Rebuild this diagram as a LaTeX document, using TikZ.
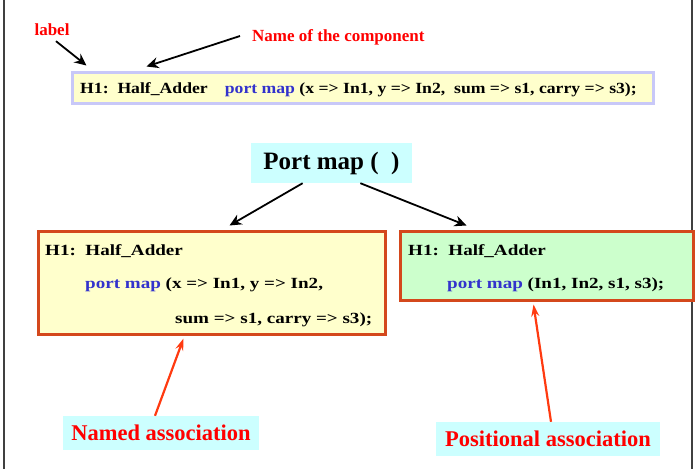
\documentclass[tikz,border=0pt]{standalone}
\usepackage{fontspec}
\setmainfont{Liberation Serif}
\newfontfamily\codefont{Liberation Serif}[FakeStretch=1.23]
\newfontfamily\topfont{Liberation Serif}[FakeStretch=1.14]
\usepackage{tikz}
\usetikzlibrary{arrows.meta,calc}

\definecolor{paleyellow}{HTML}{FFFFCC}
\definecolor{palegreen}{HTML}{CCFFCC}
\definecolor{palecyan}{HTML}{CCFFFF}
\definecolor{lavender}{HTML}{C8C8F8}
\definecolor{rust}{HTML}{D4481C}
\definecolor{notered}{HTML}{FF0000}
\definecolor{arrowred}{HTML}{FF3A10}
\definecolor{kwblue}{HTML}{3333CC}

\newcommand{\kw}[1]{\textcolor{kwblue}{#1}}

\begin{document}
\begin{tikzpicture}[x=1pt,y=-1pt,
    code/.style={anchor=base west,inner sep=0pt,font=\codefont\bfseries\fontsize{15.5}{18}\selectfont},
    note/.style={text=notered,inner sep=0pt,font=\bfseries\fontsize{17}{20}\selectfont},
    tag/.style={fill=palecyan,text=notered,inner sep=0pt,font=\bfseries\fontsize{22.5}{26}\selectfont},
    blk/.style={color=black,line width=1.8pt,-{Stealth[length=12pt,width=11pt]}},
    redarr/.style={color=arrowred,line width=2.2pt,-{Stealth[length=12pt,width=8pt,inset=4pt]}}]
    \useasboundingbox (0,0) rectangle (696,469);
    % frame
    \draw[black!75,line width=1.6pt] (4,0) -- (4,469);
    \draw[black!75,line width=1.6pt] (692,0) -- (692,469);

    % top line
    \node (lbl)  [note] at (52,30) {label};
    \node (name) [note,anchor=west] at (252,37) {Name of the component};
    \node (top) [fill=paleyellow,draw=lavender,line width=3pt,minimum width=581pt,minimum height=31pt,inner sep=0pt] at (362.5,87.5) {};
    \node (topt) [code,font=\topfont\bfseries\fontsize{15.5}{18}\selectfont] at (80,93) {H1:\ \ Half\_Adder\hspace{1.1em}\kw{port map} (x => In1, y => In2,\ \ sum => s1, carry => s3);};
    \path[blk]
     ($(lbl.south)+(4,5)$) edge ($(top.north west)+(16,-5)$)
     ($(name.west)+(-12,-1)$) edge ($(top.north west)+(76,-4)$);

    % port map
    \node (port) [fill=palecyan,minimum width=161pt,minimum height=40pt,inner sep=0pt,font=\bfseries\fontsize{25}{30}\selectfont] at (331.5,163) {Port map (\ \ )};

    \node (left) [fill=paleyellow,draw=rust,line width=3pt,minimum width=347pt,minimum height=103pt,inner sep=0pt] at (211.5,282.5) {};
    \node (l1) [code] at (45,255) {H1:\ \ Half\_Adder};
    \node (l2) [code] at (85,288) {\kw{port map} (x => In1, y => In2,};
    \node (l3) [code] at (175,323) {sum => s1, carry => s3);};

    \node (right) [fill=palegreen,draw=rust,line width=3pt,minimum width=293pt,minimum height=69pt,inner sep=0pt] at (546.5,265.5) {};
    \node (r1) [code] at (408,255) {H1:\ \ Half\_Adder};
    \node (r2) [code] at (447,288) {\kw{port map} (In1, In2, s1, s3);};

    \path[blk]
     (port.215) edge ($(left.north)+(18,-4)$)
     (port.325) edge ($(right.north west)+(68,-4)$);

    % kinds of association
    \node (named) [tag,minimum width=196pt,minimum height=34pt] at (161,433) {Named association};
    \node (posit) [tag,minimum width=224pt,minimum height=34pt] at (548,439) {Positional association};
    \path[redarr]
     ($(named.north)+(-6,0)$) edge ($(left.south)+(-28,3)$)
     ($(posit.north)+(3,0)$) edge ($(right.south)+(-13,3)$);
\end{tikzpicture}
\end{document}
